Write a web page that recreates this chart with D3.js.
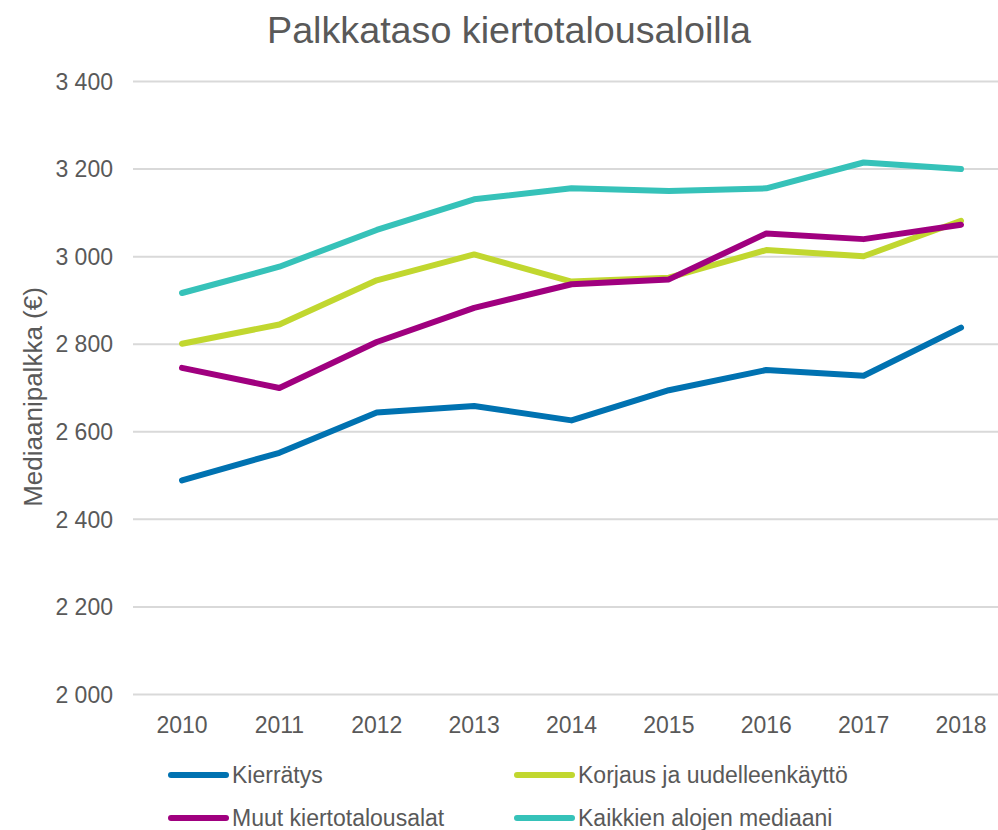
<!DOCTYPE html>
<html>
<head>
<meta charset="utf-8">
<script src="https://cdn.jsdelivr.net/npm/d3@7"></script>
<style>
  body { margin: 0; background: #fff; }
  text { font-family: "Liberation Sans", Arial, sans-serif; fill: #595959; }
</style>
</head>
<body>
<div id="chart"></div>
<script>
// data
var years = ["2010", "2011", "2012", "2013", "2014", "2015", "2016", "2017", "2018"];
var yTicks = [2000, 2200, 2400, 2600, 2800, 3000, 3200, 3400];
var seriesNames = ["Kierrätys", "Korjaus ja uudelleenkäyttö", "Muut kiertotalousalat", "Kaikkien alojen mediaani"];
var kierratys = [2489, 2552, 2644, 2659, 2626, 2695, 2741, 2728, 2838];
var korjaus = [2801, 2845, 2946, 3005, 2943, 2952, 3015, 3001, 3082];
var muut = [2746, 2700, 2805, 2883, 2937, 2948, 3053, 3040, 3073];
var kaikki = [2917, 2977, 3061, 3131, 3156, 3150, 3156, 3215, 3200];
var colors = ["#0072b1", "#c1d72f", "#a0007f", "#36c2b9"];

var width = 998, height = 830;
var svg = d3.select("#chart").append("svg")
    .attr("width", width)
    .attr("height", height);

var x = d3.scalePoint().domain(years).range([182, 961]);
var y = d3.scaleLinear().domain([2000, 3400]).range([694.5, 81.5]);

// title
svg.append("text")
    .attr("x", 509)
    .attr("y", 43)
    .attr("text-anchor", "middle")
    .attr("textLength", 484)
    .attr("lengthAdjust", "spacingAndGlyphs")
    .style("font-size", "37px")
    .text("Palkkataso kiertotalousaloilla");

// gridlines
svg.append("g")
    .selectAll("line")
    .data(yTicks)
    .enter()
    .append("line")
    .attr("x1", 133)
    .attr("x2", 998)
    .attr("y1", function (d) { return y(d); })
    .attr("y2", function (d) { return y(d); })
    .style("stroke", "#d9d9d9")
    .style("stroke-width", 2);

// y tick labels
var fmt = function (d) { return d3.format(",")(d).replace(",", " "); };
svg.append("g")
    .selectAll("text")
    .data(yTicks)
    .enter()
    .append("text")
    .attr("x", 113)
    .attr("y", function (d) { return y(d); })
    .attr("dy", "0.36em")
    .attr("text-anchor", "end")
    .style("font-size", "23px")
    .text(function (d) { return fmt(d); });

// x tick labels
svg.append("g")
    .selectAll("text")
    .data(years)
    .enter()
    .append("text")
    .attr("x", function (d) { return x(d); })
    .attr("y", 733)
    .attr("text-anchor", "middle")
    .style("font-size", "23px")
    .text(function (d) { return d; });

// y axis title
svg.append("text")
    .attr("transform", "translate(42,397) rotate(-90)")
    .attr("text-anchor", "middle")
    .style("font-size", "26px")
    .text("Mediaanipalkka (€)");

// lines
var allSeries = [kierratys, korjaus, muut, kaikki];
var line = d3.line()
    .x(function (d, i) { return x(years[i]); })
    .y(function (d) { return y(d); });

// draw order: teal, green, purple, blue on top
var order = [3, 1, 2, 0];
svg.append("g")
    .selectAll("path")
    .data(order)
    .enter()
    .append("path")
    .attr("d", function (k) { return line(allSeries[k]); })
    .style("fill", "none")
    .style("stroke", function (k) { return colors[k]; })
    .style("stroke-width", 6)
    .style("stroke-linecap", "round")
    .style("stroke-linejoin", "round");

// legend
var legendPos = [[171, 775], [517, 775], [171, 818], [517, 818]];
var legend = svg.append("g")
    .selectAll("g")
    .data(seriesNames)
    .enter()
    .append("g")
    .attr("transform", function (d, i) { return "translate(" + legendPos[i][0] + "," + legendPos[i][1] + ")"; });

legend.append("line")
    .attr("x1", 0)
    .attr("x2", 55)
    .style("stroke", function (d, i) { return colors[i]; })
    .style("stroke-width", 6)
    .style("stroke-linecap", "round");

legend.append("text")
    .attr("x", 61)
    .attr("dy", "0.36em")
    .style("font-size", "23px")
    .text(function (d) { return d; });
</script>
</body>
</html>
